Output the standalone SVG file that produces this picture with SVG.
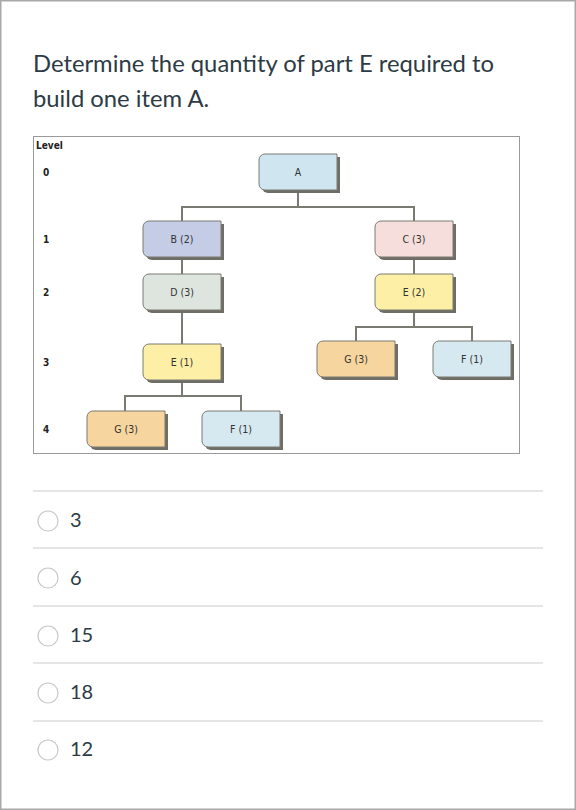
<svg xmlns="http://www.w3.org/2000/svg" xmlns:xlink="http://www.w3.org/1999/xlink" width="576" height="810" viewBox="0 0 576 810">
<style>
.q{font-family:Lato,"Open Sans","Liberation Sans",sans-serif;font-size:23.8px;fill:#2d3b45}
.ans{font-family:Lato,"Open Sans","Liberation Sans",sans-serif;font-size:20px;fill:#2d3b45}
.sep{stroke:#dcdcdc;stroke-width:1.5}
.radio{fill:#fff;stroke:#c8c8c8;stroke-width:1.2}
.lvl{font-family:"DejaVu Sans Condensed","DejaVu Sans",sans-serif;font-stretch:condensed;font-weight:bold;font-size:10px;fill:#222}
.nt{font-family:"DejaVu Sans Condensed","DejaVu Sans",sans-serif;font-stretch:condensed;font-size:10.5px;fill:#333;text-anchor:middle}
.body{stroke:#7a7a72;stroke-width:1}
.sh{fill:#6e6e66}
.con{fill:none;stroke:#7a7a72;stroke-width:2}
</style>
<defs>
<path id="box" d="M6,0 H78 V36 H6 A6,6 0 0 1 0,30 V6 A6,6 0 0 1 6,0 Z"/>
</defs>
<rect x="0.75" y="0.75" width="574.5" height="808.5" fill="#fff" stroke="#a8a8a8" stroke-width="1.5"/>
<text class="q" x="33" y="72">Determine the quantity of part E required to</text>
<text class="q" x="33" y="107">build one item A.</text>
<rect x="33.5" y="136.5" width="486" height="317" fill="#fff" stroke="#9a9a9a" stroke-width="1"/>
<g id="levels">
<text class="lvl" x="36" y="149">Level</text>
<text class="lvl" x="43" y="176">0</text>
<text class="lvl" x="43" y="243">1</text>
<text class="lvl" x="43" y="296">2</text>
<text class="lvl" x="43" y="366">3</text>
<text class="lvl" x="43" y="433">4</text>
</g>
<g id="connectors">
<path class="con" d="M298,190 V207 M182,221 V207 H414 V221"/>
<path class="con" d="M182,258 V274"/>
<path class="con" d="M414,258 V274"/>
<path class="con" d="M182,310 V344"/>
<path class="con" d="M125,411 V396 H241 V411 M182,380 V396"/>
<path class="con" d="M356,341 V327 H472 V341 M414,310 V327"/>
</g>
<g id="nodeA" transform="translate(259,154)"><use xlink:href="#box" class="sh" x="3" y="3"/><use xlink:href="#box" class="body" fill="#cfe6f0"/><text class="nt" x="39" y="22">A</text></g>
<g id="nodeB" transform="translate(143,221)"><use xlink:href="#box" class="sh" x="3" y="3"/><use xlink:href="#box" class="body" fill="#c5cce6"/><text class="nt" x="39" y="22">B (2)</text></g>
<g id="nodeC" transform="translate(375,221)"><use xlink:href="#box" class="sh" x="3" y="3"/><use xlink:href="#box" class="body" fill="#f5dedb"/><text class="nt" x="39" y="22">C (3)</text></g>
<g id="nodeD" transform="translate(143,274)"><use xlink:href="#box" class="sh" x="3" y="3"/><use xlink:href="#box" class="body" fill="#dde5de"/><text class="nt" x="39" y="22">D (3)</text></g>
<g id="nodeE2" transform="translate(375,274)"><use xlink:href="#box" class="sh" x="3" y="3"/><use xlink:href="#box" class="body" fill="#fdf0a6"/><text class="nt" x="39" y="22">E (2)</text></g>
<g id="nodeE1" transform="translate(143,344)"><use xlink:href="#box" class="sh" x="3" y="3"/><use xlink:href="#box" class="body" fill="#fdf0a6"/><text class="nt" x="39" y="22">E (1)</text></g>
<g id="nodeG1" transform="translate(87,411)"><use xlink:href="#box" class="sh" x="3" y="3"/><use xlink:href="#box" class="body" fill="#f7d59e"/><text class="nt" x="39" y="22">G (3)</text></g>
<g id="nodeF1" transform="translate(202,411)"><use xlink:href="#box" class="sh" x="3" y="3"/><use xlink:href="#box" class="body" fill="#d6e8f0"/><text class="nt" x="39" y="22">F (1)</text></g>
<g id="nodeG2" transform="translate(317,341)"><use xlink:href="#box" class="sh" x="3" y="3"/><use xlink:href="#box" class="body" fill="#f7d59e"/><text class="nt" x="39" y="22">G (3)</text></g>
<g id="nodeF2" transform="translate(433,341)"><use xlink:href="#box" class="sh" x="3" y="3"/><use xlink:href="#box" class="body" fill="#d6e8f0"/><text class="nt" x="39" y="22">F (1)</text></g>
<g id="answers">
<line class="sep" x1="33" y1="491" x2="543" y2="491"/>
<line class="sep" x1="33" y1="548" x2="543" y2="548"/>
<line class="sep" x1="33" y1="606" x2="543" y2="606"/>
<line class="sep" x1="33" y1="663" x2="543" y2="663"/>
<line class="sep" x1="33" y1="721" x2="543" y2="721"/>
<circle class="radio" cx="48" cy="521" r="10"/><text class="ans" x="70" y="527">3</text>
<circle class="radio" cx="48" cy="578" r="10"/><text class="ans" x="70" y="585">6</text>
<circle class="radio" cx="48" cy="636" r="10"/><text class="ans" x="70" y="642">15</text>
<circle class="radio" cx="48" cy="693" r="10"/><text class="ans" x="70" y="699">18</text>
<circle class="radio" cx="48" cy="750" r="10"/><text class="ans" x="70" y="756">12</text>
</g>
</svg>
